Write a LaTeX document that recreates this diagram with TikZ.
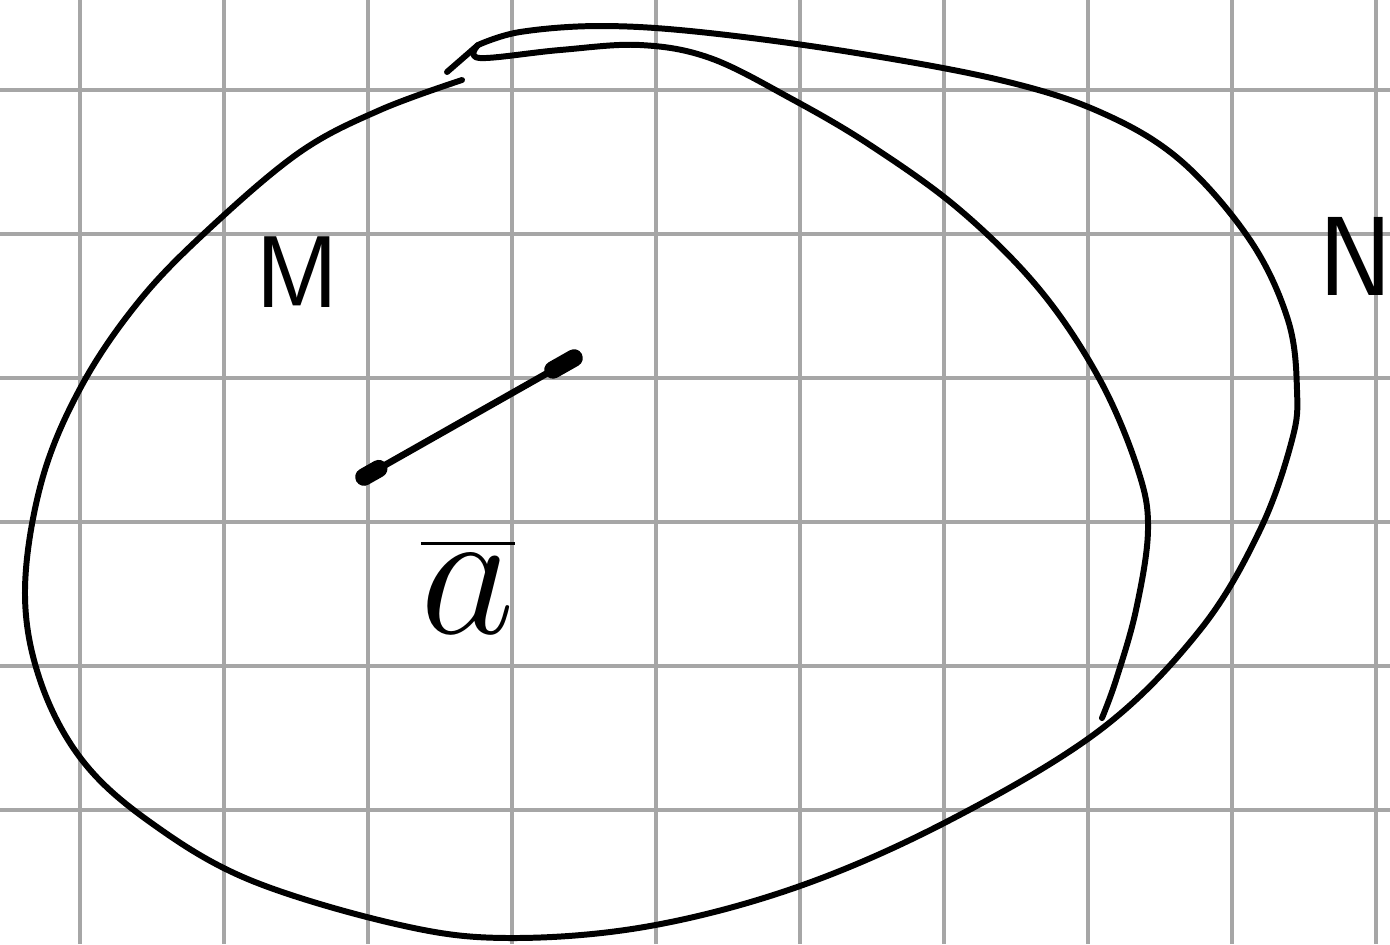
\documentclass[tikz,border=0pt]{standalone}
\usepackage{graphicx}
\usepackage{tikz}
\usetikzlibrary{calc}
\begin{document}
\begin{tikzpicture}[x=0.01cm,y=-0.01cm,
  gridline/.style={draw=black!35,line width=0.9pt},
  pen/.style={line width=1.7pt,line cap=round,line join=round},
  blob/.style={line width=5pt,line cap=round},
  lbl/.style={inner sep=0pt,font=\fontsize{29}{29}\selectfont\sffamily}]
\useasboundingbox (0,0) rectangle (1390,944);
\fill[white] (0,0) rectangle (1390,944);
% squared paper
\foreach \x in {80,224,...,1376} \draw[gridline] (\x,0) -- (\x,944);
\foreach \y in {90,234,...,810} \draw[gridline] (0,\y) -- (1390,\y);
% outer region
\draw[pen] plot[smooth,tension=0.6] coordinates {(462,80) (380,110) (300,152) (210,228) (140,300) (82,385) (42,480) (25,590) (40,680) (82,760) (150,822) (250,880) (400,925) (510,938) (650,926) (800,886) (950,820) (1100,730) (1200,630) (1260,530) (1292,440) (1297,390) (1288,320) (1250,240) (1180,160) (1100,112) (1000,80) (850,52) (700,32) (600,26) (520,32) (478,45)} -- (447,72);
% inner boundary
\draw[pen] plot[smooth,tension=0.6] coordinates {(478,45) (480,58) (560,50) (640,45) (710,58) (790,98) (870,145) (960,210) (1040,290) (1100,380) (1138,470) (1148,530) (1136,610) (1116,680) (1102,718)};
% the segment
\coordinate (segA) at (364,477);
\coordinate (segB) at (574,358);
\draw[pen,line width=1.9pt] (segA) -- (segB);
\draw[blob] (segA) -- ($(segA)!0.07!(segB)$);
\draw[blob] ($(segA)!0.9!(segB)$) -- (segB);
% labels
\node[lbl] (labM) at (297,272) {M};
\node[lbl,anchor=west,font=\fontsize{32}{32}\selectfont\sffamily] (labN) at (1318,256) {N};
\node[inner sep=0pt,anchor=base] (laba) at (468,633) {\scalebox{2.1}{\fontsize{24}{24}\selectfont$\overline{a}$}};
\end{tikzpicture}
\end{document}
